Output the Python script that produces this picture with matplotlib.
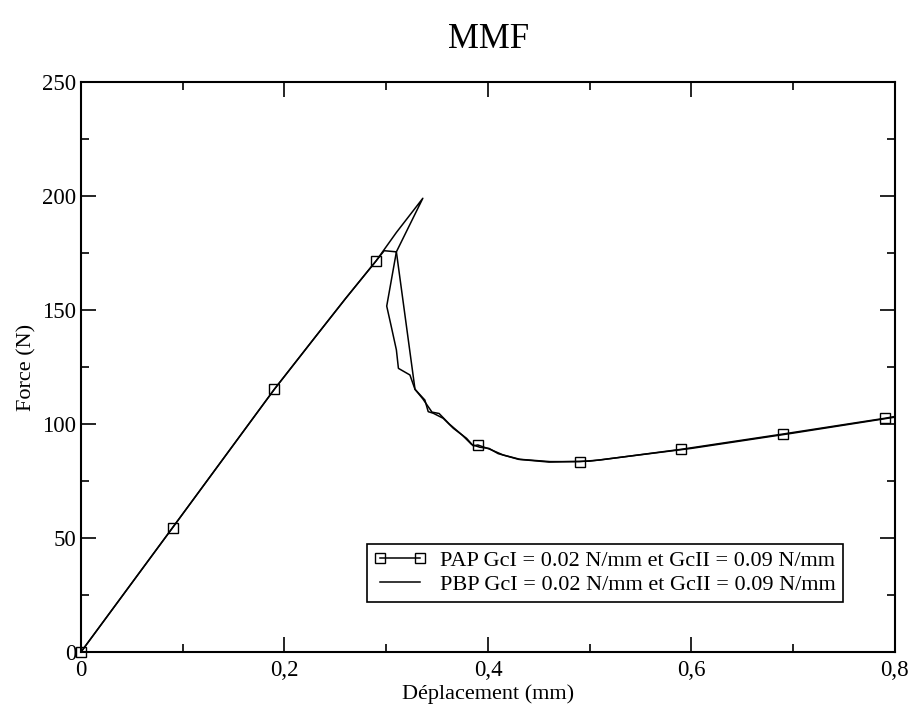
import numpy as np
import matplotlib.pyplot as plt
from matplotlib.ticker import MultipleLocator, FuncFormatter

plt.rcParams['font.family'] = ['Liberation Serif', 'DejaVu Serif']

# PAP curve (with symbols)
pap_x = [0.0, 0.09, 0.19, 0.23, 0.26, 0.29, 0.298, 0.310, 0.3005, 0.305, 0.310, 0.312,
         0.3233, 0.3283, 0.338, 0.3413, 0.3463, 0.356, 0.366, 0.379, 0.3856, 0.39,
         0.402, 0.415, 0.4315, 0.461, 0.49, 0.51, 0.59, 0.69, 0.79, 0.80]
pap_y = [0.0, 54.5, 115.2, 138.0, 155.0, 171.5, 176.0, 175.5, 151.7, 142.7, 132.5, 124.4,
         121.5, 115.2, 110.5, 105.4, 104.7, 102.5, 98.1, 93.7, 90.4, 90.8,
         88.9, 86.4, 84.5, 83.5, 83.5, 84.2, 88.9, 95.6, 102.5, 103.3]
pap_marks = [0, 1, 2, 5, 21, 26, 28, 29, 30]

# PBP curve (plain line)
pbp_x = [0.0, 0.09, 0.19, 0.23, 0.26, 0.29, 0.31, 0.336, 0.310, 0.3283, 0.336, 0.345,
         0.352, 0.362, 0.375, 0.384, 0.392, 0.401, 0.41, 0.43, 0.46, 0.5, 0.6, 0.7, 0.8]
pbp_y = [0.0, 54.5, 115.2, 138.0, 155.0, 171.5, 184.0, 199.0, 175.5, 115.2, 111.0, 105.2,
         104.6, 100.0, 95.0, 91.0, 89.8, 89.3, 87.0, 84.5, 83.3, 83.7, 89.3, 96.0, 103.0]

legend_pap = 'PAP GcI = 0.02 N/mm et GcII = 0.09 N/mm'
legend_pbp = 'PBP GcI = 0.02 N/mm et GcII = 0.09 N/mm'

fig = plt.figure(figsize=(9.16, 7.16), dpi=100)
ax = fig.add_axes([0.0884, 0.0894, 0.8886, 0.7961])

ax.plot(pap_x, pap_y, color='black', lw=1.1, marker='s', markersize=7.5,
        markerfacecolor='none', markeredgecolor='black', markeredgewidth=1.0,
        markevery=pap_marks, label=legend_pap, clip_on=False)
ax.plot(pbp_x, pbp_y, color='black', lw=1.1, label=legend_pbp)

ax.set_xlim(0, 0.8)
ax.set_ylim(0, 250)
ax.xaxis.set_major_locator(MultipleLocator(0.2))
ax.xaxis.set_minor_locator(MultipleLocator(0.1))
ax.yaxis.set_major_locator(MultipleLocator(50))
ax.yaxis.set_minor_locator(MultipleLocator(25))
ax.xaxis.set_major_formatter(FuncFormatter(lambda v, p: ('%g' % v).replace('.', ',')))
ax.tick_params(which='both', direction='in', top=True, right=True, labelsize=16.5, width=1.2)
ax.tick_params(which='major', length=11)
ax.tick_params(which='minor', length=5.5)
ax.tick_params(axis='x', pad=6)
for s in ax.spines.values():
    s.set_linewidth(1.5)

ax.set_xlabel('Déplacement (mm)', fontsize=16, labelpad=2)
ax.set_ylabel('Force (N)', fontsize=16, labelpad=4)
fig.text(0.5 + 0.033, 0.945, 'MMF', ha='center', va='center', fontsize=25)

leg = ax.legend(loc='lower right', bbox_to_anchor=(0.936, 0.088), borderaxespad=0,
                fontsize=16, numpoints=2, handlelength=2.4, fancybox=False, framealpha=1,
                edgecolor='black', borderpad=0.3, labelspacing=0.15, handletextpad=0.6)
leg.get_frame().set_linewidth(1.2)

fig.savefig('out.png', dpi=100)
